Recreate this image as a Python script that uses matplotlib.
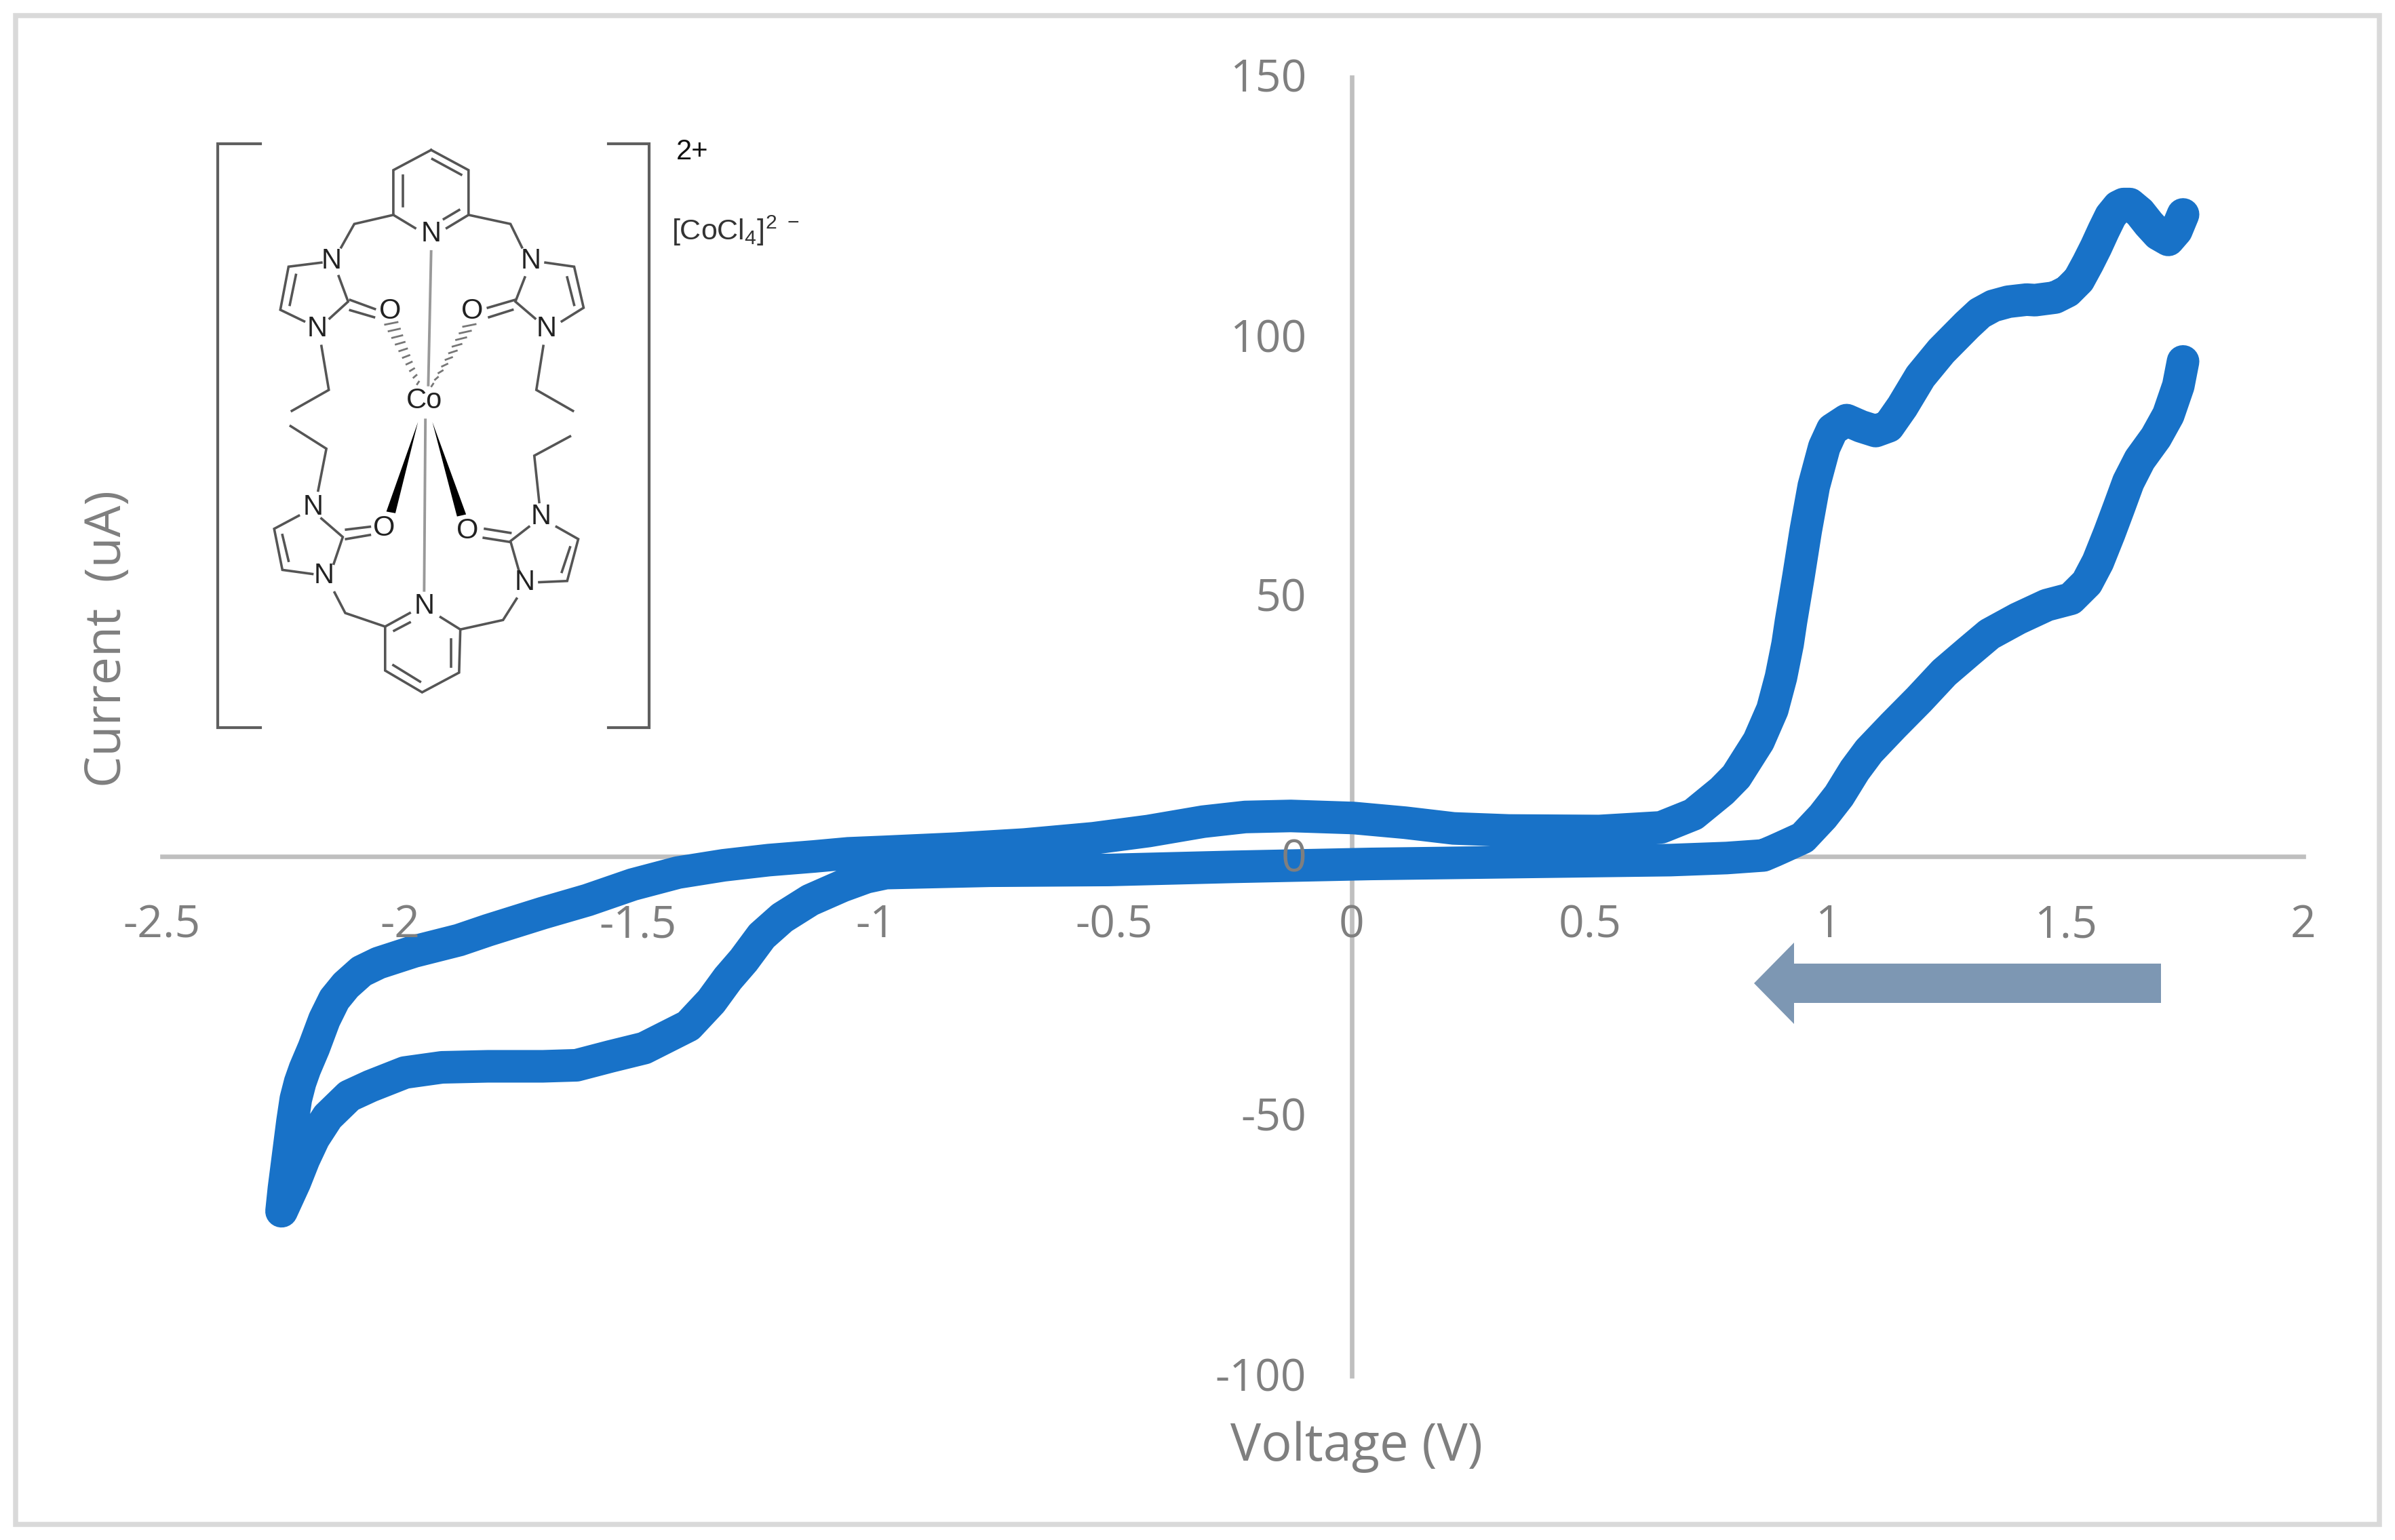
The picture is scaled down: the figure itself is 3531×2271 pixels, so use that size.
import numpy as np
import matplotlib
matplotlib.use("Agg")
import matplotlib.pyplot as plt
from matplotlib.patches import Polygon, Rectangle
from matplotlib.transforms import ScaledTranslation

plt.rcParams['font.family'] = ['Open Sans', 'DejaVu Sans']
plt.rcParams['mathtext.default'] = 'regular'
plt.rcParams['axes.unicode_minus'] = False

# cyclic voltammogram, starts at the top right end
voltage = [1.747, 1.733, 1.716, 1.695, 1.675, 1.656, 1.635, 1.622, 1.611, 1.595, 1.58, 1.564, 1.547, 1.528, 1.504,
           1.478, 1.436, 1.418, 1.38, 1.348, 1.32, 1.293, 1.239, 1.195, 1.157, 1.128, 1.101, 1.07, 1.04, 1.01, 0.993,
           0.971, 0.954, 0.939, 0.923, 0.916, 0.902, 0.884, 0.855, 0.808, 0.778, 0.718, 0.65, 0.52,
           0.33, 0.214, 0.112, 0.004, -0.128, -0.224, -0.312, -0.427, -0.543, -0.688, -0.834, -0.979,
           -1.058, -1.13, -1.225, -1.32, -1.416, -1.511, -1.606, -1.7, -1.815, -1.876, -1.971, -2.045,
           -2.081, -2.114, -2.138, -2.159, -2.181, -2.2, -2.21, -2.219, -2.226, -2.232, -2.244, -2.249,
           -2.221, -2.202, -2.181, -2.152, -2.107, -2.062, -1.99, -1.912, -1.815, -1.7, -1.629, -1.558,
           -1.487, -1.394, -1.346, -1.311, -1.278, -1.24, -1.197, -1.138, -1.071, -1.02, -0.979, -0.76,
           -0.51, -0.25, 0.04, 0.33, 0.67, 0.788, 0.865, 0.888, 0.905, 0.948, 0.99, 1.024, 1.057, 1.087, 1.138,
           1.192, 1.245, 1.296, 1.34, 1.4, 1.461, 1.511, 1.545, 1.568, 1.592, 1.612, 1.632, 1.656, 1.69,
           1.716, 1.737, 1.747]
current = [123.6, 120.5, 118.7, 119.8, 121.8, 124.0, 125.6, 125.6, 125.1, 123.3, 120.5, 117.3, 114.2, 111.0, 108.8,
           107.6, 107.1, 107.2, 106.8, 106.0, 104.6, 102.3, 97.3, 92.4, 86.6, 82.8, 81.9, 82.8, 84.0, 82.2, 78.8,
           71.3, 62.7, 54.0, 45.2, 40.9, 34.5, 28.3, 22.2, 15.4, 12.6, 8.1, 5.6, 4.9,
           5.0, 5.4, 6.5, 7.4, 7.8, 7.6, 6.7, 4.9, 3.5, 2.3, 1.5, 0.9,
           0.6, 0.0, -0.7, -1.7, -3.1, -5.4, -8.4, -10.9, -14.2, -16.1, -18.3, -20.5,
           -22.1, -24.8, -27.5, -31.4, -36.8, -40.9, -43.5, -46.7, -51.0, -55.3, -63.9, -68.3,
           -62.7, -58.3, -54.2, -50.1, -46.1, -44.2, -41.6, -40.6, -40.4, -40.4, -40.2, -38.5,
           -36.9, -32.6, -27.9, -23.5, -20.0, -15.3, -11.8, -8.4, -5.7, -4.0, -3.2, -2.75,
           -2.6, -2.0, -1.44, -1.1, -0.7, -0.3, 0.2, 1.1, 1.8, 3.6, 7.7, 11.7, 16.6, 20.3, 25.2,
           30.2, 35.4, 39.4, 42.8, 45.8, 48.4, 49.6, 52.7, 56.7, 62.2, 67.1, 72.1, 76.4, 80.7,
           85.0, 90.6, 95.3]

x_ticks = [-2.5, -2, -1.5, -1, -0.5, 0, 0.5, 1, 1.5, 2]
y_ticks = [-100, -50, 0, 50, 100, 150]

# molecule sketch, coordinates of a 1568 x 1568 grid over the inset
bonds = [
    [(587, 68), (678, 117), (678, 226), (625, 258)], [(590, 90), (660, 128)], [(655, 214), (618, 236)],
    [(548, 258), (495, 226), (495, 117), (587, 68)], [(518, 130), (518, 205)],
    [(495, 226), (400, 248), (368, 305)], [(678, 226), (780, 248), (808, 305)],
    [(320, 342), (240, 352), (220, 457), (278, 485)], [(258, 372), (243, 445)],
    [(340, 478), (385, 437), (362, 375)], [(390, 433), (450, 455)], [(390, 458), (448, 475)],
    [(865, 342), (935, 352), (958, 452), (905, 485)], [(918, 378), (935, 445)],
    [(840, 478), (792, 437), (815, 378)], [(790, 433), (725, 452)], [(785, 457), (728, 475)],
    [(320, 545), (338, 652), (248, 703)], [(860, 545), (843, 652), (932, 703)],
    [(245, 740), (332, 795), (312, 897)], [(925, 765), (838, 812), (850, 925)],
    [(265, 958), (205, 990), (225, 1090), (298, 1100)], [(225, 1005), (240, 1068)],
    [(320, 965), (372, 1010), (350, 1075)], [(380, 992), (438, 985)], [(380, 1015), (438, 1005)],
    [(892, 985), (945, 1015), (918, 1117), (850, 1120)], [(925, 1035), (905, 1095)],
    [(825, 985), (780, 1020), (800, 1090)], [(780, 1000), (718, 990)], [(778, 1022), (715, 1012)],
    [(352, 1145), (378, 1195), (475, 1228)], [(795, 1160), (762, 1212), (658, 1235)],
    [(535, 1195), (475, 1228), (475, 1335), (565, 1388), (655, 1340), (658, 1235), (610, 1205)],
    [(497, 1238), (535, 1218)], [(635, 1260), (635, 1325)], [(495, 1322), (560, 1362)],
]
metal_bonds = [[(587, 315), (580, 640)], [(573, 725), (570, 1140)]]
hashed = [[(490, 490), (555, 635)], [(680, 495), (590, 640)]]
wedges = [[(555, 730), (478, 948), (500, 952)], [(590, 730), (650, 960), (672, 955)]]
brackets = [[(172, 52), (68, 52), (68, 1474), (172, 1474)], [(1018, 52), (1118, 52), (1118, 1474), (1018, 1474)]]
atoms = [('N', 587, 272), ('N', 345, 338), ('N', 310, 503), ('O', 487, 460), ('N', 830, 338),
         ('N', 868, 503), ('O', 687, 460), ('Co', 570, 678), ('N', 300, 938), ('N', 327, 1105),
         ('O', 473, 988), ('N', 855, 960), ('N', 815, 1120), ('O', 675, 995), ('N', 570, 1178)]

fig = plt.figure(figsize=(35.31, 22.71), dpi=100)
ax = fig.add_axes([239 / 3531, 1 - 2029 / 2271, 3157 / 3531, 1915 / 2271])
ax.plot(voltage, current, color='#1872C8', lw=34.6, solid_capstyle='round', solid_joinstyle='round', zorder=2)

ax.set_xlim(-2.5, 2)
ax.set_ylim(-100, 150)
ax.set_xticks(x_ticks)
ax.set_xticklabels([str(t) for t in x_ticks])
ax.set_yticks(y_ticks)
ax.spines['left'].set_position('zero')
ax.spines['bottom'].set_position('zero')
for s in ['top', 'right']:
    ax.spines[s].set_visible(False)
for s in ['left', 'bottom']:
    ax.spines[s].set_color('#BFBFBF')
    ax.spines[s].set_linewidth(4.8)
    ax.spines[s].set_zorder(1)
ax.set_axisbelow(False)
ax.tick_params(length=0, labelsize=47.5, labelcolor='#7F7F7F')
ax.tick_params(axis='x', pad=50)
ax.tick_params(axis='y', pad=48)
ax.patch.set_visible(False)
for lab in ax.get_yticklabels():
    lab.set_transform(lab.get_transform() + ScaledTranslation(0, 0.03, fig.dpi_scale_trans))

fig.text(2000 / 3531, 1 - 2134 / 2271, 'Voltage (V)', fontsize=54.5, color='#7F7F7F', ha='center', va='center')
fig.text(159 / 3531, 1 - 942 / 2271, 'Current  (uA)', fontsize=53, color='#7F7F7F', ha='center', va='center',
         rotation=90)

# overlay in pixels for the frame and the arrow
over = fig.add_axes([0, 0, 1, 1])
over.set_xlim(0, 3531)
over.set_ylim(2271, 0)
over.axis('off')
over.add_patch(Rectangle((23, 23), 3485, 2225, fill=False, ec='#D9D9D9', lw=5.4))
over.add_patch(Polygon([(3186, 1421), (2645, 1421), (2645, 1390), (2586, 1450), (2645, 1510), (2645, 1479), (3186, 1479)],
                       closed=True, fc='#7D97B3', ec='none'))

# inset with the molecule
ins = fig.add_axes([280 / 3531, 1 - 1130 / 2271, 950 / 3531, 950 / 2271])
ins.set_xlim(0, 1568)
ins.set_ylim(1568, 0)
ins.axis('off')
for b in bonds:
    xs, ys = zip(*b)
    ins.plot(xs, ys, color='#555555', lw=2.6, solid_joinstyle='miter')
for b in metal_bonds:
    xs, ys = zip(*b)
    ins.plot(xs, ys, color='#999999', lw=2.8)
for b in brackets:
    xs, ys = zip(*b)
    ins.plot(xs, ys, color='#5F5F5F', lw=3, solid_joinstyle='miter')
for (x0, y0), (x1, y1) in hashed:
    for t in np.linspace(0, 1, 10):
        px = x0 + (x1 - x0) * t
        py = y0 + (y1 - y0) * t
        w = 13 * (1 - t) + 2
        ins.plot([px - w, px + w], [py + 3, py - 3], color='#777777', lw=2)
for w in wedges:
    ins.add_patch(Polygon(w, closed=True, fc='black', ec='none'))
for a, x, y in atoms:
    ins.text(x, y, a, fontsize=30, family='Liberation Sans', color='#222222', ha='center', va='center')
ins.text(1222, 72, '2+', fontsize=30, family='Liberation Sans', color='#111111', ha='center', va='center')
ins.text(1172, 265, '[CoCl$_4$]$^{2\\ -}$', fontsize=31, family='Liberation Sans', color='#333333',
         ha='left', va='center')

fig.savefig('out.png', dpi=100)
